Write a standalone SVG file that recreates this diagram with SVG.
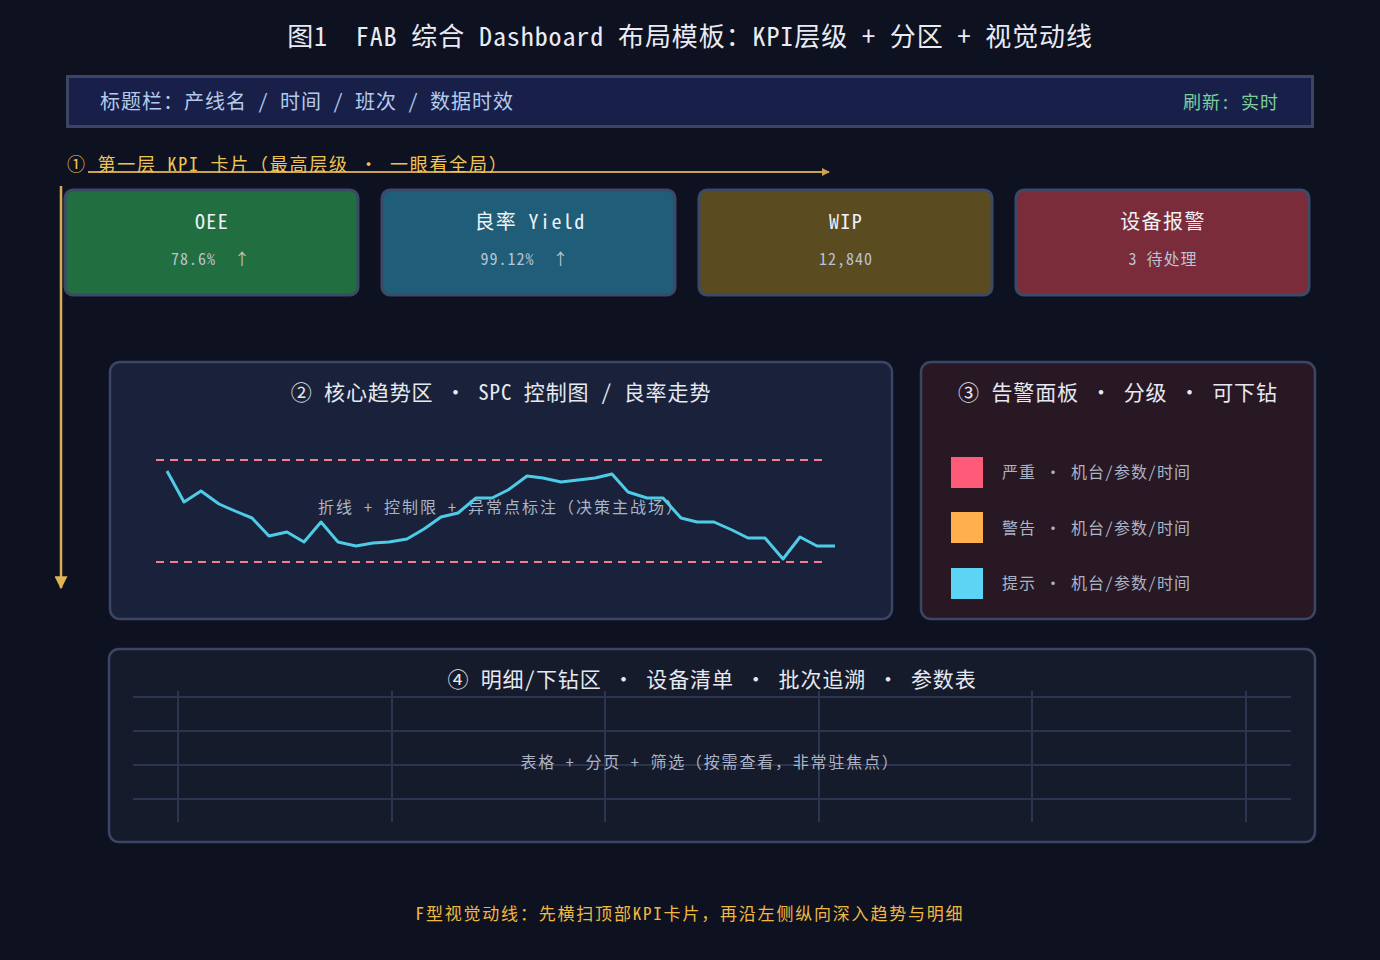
<svg xmlns="http://www.w3.org/2000/svg" width="1380" height="960" viewBox="0 0 1380 960">
<defs>
<style>
text{font-family:"Noto Sans Mono CJK SC","Noto Sans CJK SC",monospace;white-space:pre;}
.title{font-size:26px;fill:#e8ebf3;letter-spacing:0.9px;}
.hdr{font-size:20px;fill:#b4cbea;letter-spacing:1px;}
.kpi{stroke:#3b4a68;stroke-width:3;}
.kt{font-size:20px;fill:#eef1f6;text-anchor:middle;letter-spacing:1.4px;}
.kv{font-size:16px;fill:#b9c3d3;text-anchor:middle;letter-spacing:1px;}
.panel{stroke:#3a4664;stroke-width:2.5;}
.pt{font-size:21px;fill:#e6e9f1;text-anchor:middle;letter-spacing:0.9px;}
.sub{font-size:16px;fill:#aab4c6;}
.grid line{stroke:#2b3550;stroke-width:2;}
.ctl{stroke:#f27e8e;stroke-width:2;stroke-dasharray:8 6;}
.flow{stroke:#c9a252;stroke-width:2;fill:none;}
</style>
<marker id="ah" viewBox="0 0 10 10" refX="9" refY="5" markerWidth="8" markerHeight="8" markerUnits="userSpaceOnUse" orient="auto"><path d="M0,0 L10,5 L0,10 z" fill="#c9a252"/></marker>
<marker id="ahv" viewBox="0 0 10 10" refX="9" refY="5" markerWidth="13" markerHeight="13" markerUnits="userSpaceOnUse" orient="auto"><path d="M0,0 L10,5 L0,10 z" fill="#e0b455"/></marker>
</defs>
<rect width="1380" height="960" fill="#0e1120"/>
<text class="title" x="690" y="46" text-anchor="middle" xml:space="preserve">图1  FAB 综合 Dashboard 布局模板：KPI层级 + 分区 + 视觉动线</text>

<g id="header">
<rect x="67.5" y="76.5" width="1245" height="50" fill="#18204a" stroke="#3b4666" stroke-width="3"/>
<text class="hdr" x="100" y="109">标题栏：产线名 / 时间 / 班次 / 数据时效</text>
<text x="1279" y="109" text-anchor="end" font-size="18" fill="#7ccf98" letter-spacing="1">刷新: 实时</text>
</g>

<g id="connectors">
<line class="flow" x1="88" y1="172" x2="829" y2="172" marker-end="url(#ah)"/>
<line x1="61" y1="186" x2="61" y2="588" stroke="#d6ad55" stroke-width="2.5" marker-end="url(#ahv)"/>
</g>
<text x="67" y="171" font-size="18" fill="#f0c454" letter-spacing="1.75">① 第一层 KPI 卡片（最高层级 · 一眼看全局）</text>

<g id="kpi-oee">
<rect class="kpi" x="65" y="190" width="293" height="105" rx="8" fill="#216f40"/>
<text class="kt" x="212" y="229">OEE</text>
<text class="kv" x="211" y="265" xml:space="preserve">78.6%  ↑</text>
</g>
<g id="kpi-yield">
<rect class="kpi" x="382" y="190" width="293" height="105" rx="8" fill="#1f5d78"/>
<text class="kt" x="530" y="229">良率 Yield</text>
<text class="kv" x="525" y="265" xml:space="preserve">99.12%  ↑</text>
</g>
<g id="kpi-wip">
<rect class="kpi" x="699" y="190" width="293" height="105" rx="8" fill="#5a4b20"/>
<text class="kt" x="846" y="229">WIP</text>
<text class="kv" x="846" y="265">12,840</text>
</g>
<g id="kpi-alarm">
<rect class="kpi" x="1016" y="190" width="293" height="105" rx="8" fill="#7a2c3a"/>
<text class="kt" x="1163" y="229">设备报警</text>
<text class="kv" x="1163" y="265">3 待处理</text>
</g>

<g id="panel-trend">
<rect class="panel" x="110" y="362" width="782" height="257" rx="10" fill="#19223a"/>
<text class="pt" x="501" y="400">② 核心趋势区 · SPC 控制图 / 良率走势</text>
<line class="ctl" x1="156" y1="460" x2="824" y2="460"/>
<line class="ctl" x1="156" y1="562" x2="824" y2="562"/>
<text class="sub" x="501" y="513" text-anchor="middle" letter-spacing="2">折线 + 控制限 + 异常点标注（决策主战场）</text>
<polyline fill="none" stroke="#4fcbe8" stroke-width="3" stroke-linejoin="round" points="167,471 184,502 201,491 219,504 235,511 252,518 269,536 287,532 304,542 321,522 338,542 356,546 373,543 389,542 407,539 424,529 441,517 458,513 476,498 492,498 508,490 527,476 543,478 561,482 578,480 595,478 612,474 628,492 647,498 663,498 681,518 697,522 714,522 732,530 748,538 765,538 783,559 800,537 817,546 835,546"/>
</g>

<g id="panel-alarm">
<rect class="panel" x="921" y="362" width="394" height="257" rx="10" fill="#281824"/>
<text class="pt" x="1118" y="400">③ 告警面板 · 分级 · 可下钻</text>
<rect x="951" y="457" width="32" height="31" fill="#ff5a78"/>
<text class="sub" x="1002" y="478" fill="#c9cdd8" letter-spacing="1">严重 · 机台/参数/时间</text>
<rect x="951" y="512" width="32" height="31" fill="#ffb04c"/>
<text class="sub" x="1002" y="534" fill="#c9cdd8" letter-spacing="1">警告 · 机台/参数/时间</text>
<rect x="951" y="568" width="32" height="31" fill="#5cd4f4"/>
<text class="sub" x="1002" y="589" fill="#c9cdd8" letter-spacing="1">提示 · 机台/参数/时间</text>
</g>

<g id="panel-detail">
<rect class="panel" x="109" y="649" width="1206" height="193" rx="10" fill="#161b2c"/>
<g class="grid">
<line x1="133" y1="697" x2="1291" y2="697"/>
<line x1="133" y1="731" x2="1291" y2="731"/>
<line x1="133" y1="765" x2="1291" y2="765"/>
<line x1="133" y1="799" x2="1291" y2="799"/>
<line x1="178" y1="691" x2="178" y2="822"/>
<line x1="392" y1="691" x2="392" y2="822"/>
<line x1="605" y1="691" x2="605" y2="822"/>
<line x1="819" y1="691" x2="819" y2="822"/>
<line x1="1032" y1="691" x2="1032" y2="822"/>
<line x1="1246" y1="691" x2="1246" y2="822"/>
</g>
<text class="pt" x="712" y="687">④ 明细/下钻区 · 设备清单 · 批次追溯 · 参数表</text>
<text class="sub" x="710" y="768" text-anchor="middle" letter-spacing="1.8">表格 + 分页 + 筛选（按需查看，非常驻焦点）</text>
</g>

<text x="690" y="920" text-anchor="middle" font-size="17" fill="#f0b840" letter-spacing="1.8">F型视觉动线：先横扫顶部KPI卡片，再沿左侧纵向深入趋势与明细</text>
</svg>
